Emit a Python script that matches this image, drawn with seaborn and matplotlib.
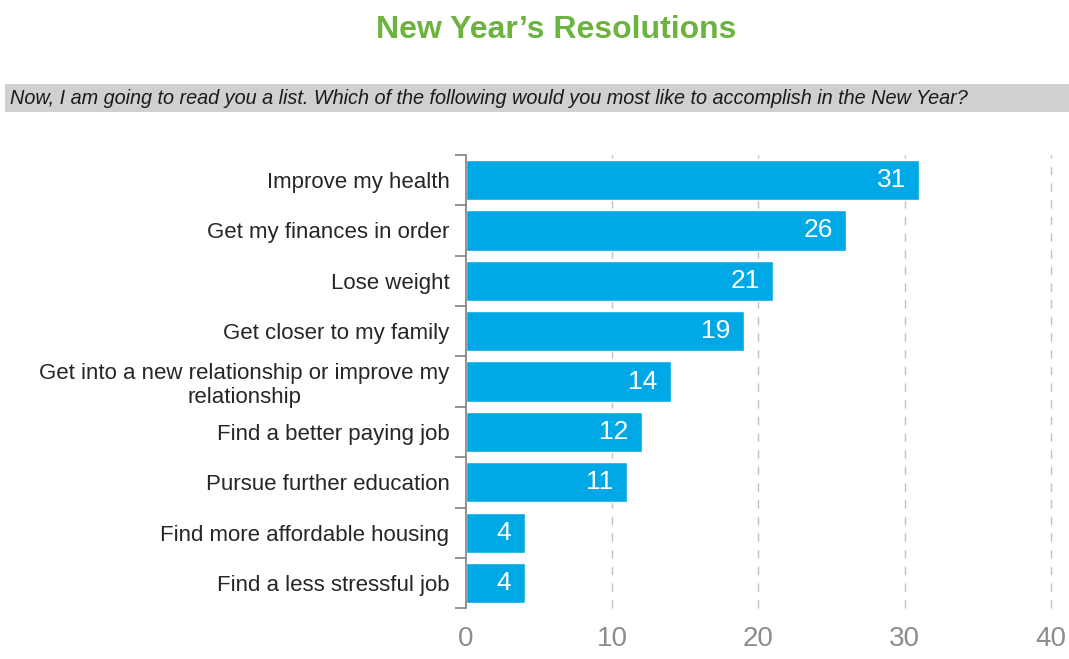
import matplotlib
matplotlib.use("Agg")
import matplotlib.pyplot as plt
import numpy as np
import pandas as pd
import seaborn as sns

resolutions = [
    "Improve my health",
    "Get my finances in order",
    "Lose weight",
    "Get closer to my family",
    "Get into a new relationship or improve my\nrelationship",
    "Find a better paying job",
    "Pursue further education",
    "Find more affordable housing",
    "Find a less stressful job",
]
percents = [31, 26, 21, 19, 14, 12, 11, 4, 4]
x_ticks = [0, 10, 20, 30, 40]

df = pd.DataFrame({"resolution": resolutions, "pct": percents})

sns.set_style("white")
plt.rcParams["font.family"] = ["Liberation Sans", "DejaVu Sans"]

fig = plt.figure(figsize=(10.69, 6.59), dpi=100)
ax = fig.add_axes([0.436, 0.077, 0.547, 0.688])

sns.barplot(data=df, x="pct", y="resolution", color="#00A9E6", saturation=1,
            width=0.8, ax=ax)

# value labels inside bar ends
for i, v in enumerate(percents):
    ax.text(v - 0.9, i, str(v), ha="right", va="center", color="white", fontsize=19)

ax.set_xlim(0, 40)
ax.set_ylim(len(resolutions) - 0.5, -0.5)
ax.set_xticks(x_ticks)
ax.set_xticklabels([str(t) for t in x_ticks], color="#8C8C8C", fontsize=20)
ax.tick_params(axis="x", bottom=False, length=0, pad=13)

# category labels, ticks between categories
ax.set_yticks(range(len(resolutions)))
ax.set_yticklabels(resolutions, fontsize=16, color="#262626", ha="right",
                   multialignment="center")
ax.tick_params(axis="y", which="major", left=False, length=0, pad=12)
ax.set_yticks(np.arange(-0.5, len(resolutions), 1), minor=True)
ax.tick_params(axis="y", which="minor", left=True, length=8, color="#808080", width=1.2)

for x in x_ticks[1:]:
    ax.axvline(x, color="#C0C0C0", linestyle=(0, (6, 6)), linewidth=1.0, zorder=0,
               clip_on=False)

for s in ["top", "right", "bottom"]:
    ax.spines[s].set_visible(False)
ax.spines["left"].set_color("#808080")
ax.spines["left"].set_linewidth(1.2)
ax.set_xlabel("")
ax.set_ylabel("")

fig.text(0.52, 0.955, "New Year\u2019s Resolutions", ha="center", va="center",
         fontsize=23, fontweight="bold", color="#6DB33F")
fig.patches.append(plt.Rectangle((0.005, 0.83), 0.995, 0.042, transform=fig.transFigure,
                                 facecolor="#D0D0D0", edgecolor="none", zorder=0))
fig.text(0.009, 0.851, "Now, I am going to read you a list. Which of the following would you most like to accomplish in the New Year?",
         ha="left", va="center", fontsize=14.3, style="italic", color="#1A1A1A")

fig.savefig("out.png", dpi=100)
